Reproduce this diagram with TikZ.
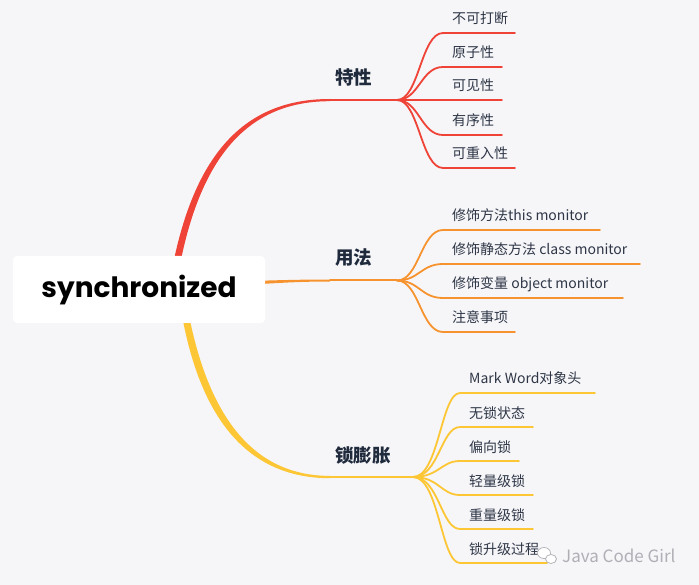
\documentclass[tikz,border=0pt]{standalone}
\usepackage{fontspec}
\setmainfont{Noto Sans CJK SC}
\newfontfamily\popfont{Poppins}
\definecolor{bgc}{HTML}{F6F6F9}
\definecolor{cred}{HTML}{EE4336}
\definecolor{corange}{HTML}{F7932E}
\definecolor{cyellow}{HTML}{FCC634}
\definecolor{cattext}{HTML}{1F2A3C}
\definecolor{childtext}{HTML}{2E3646}
\definecolor{wmark}{HTML}{AFAFB5}
\begin{document}
\begin{tikzpicture}[x=1pt,y=-1pt,
  childlbl/.style={anchor=base west, inner sep=0pt, text=childtext, font=\fontsize{14}{16}\selectfont},
  catlbl/.style={anchor=base west, inner sep=0pt, text=cattext, font=\fontsize{18.5}{22}\selectfont\bfseries},
  sub/.style={line width=1.8pt, line cap=round},
]
\fill[bgc] (0,0) rectangle (699,585);
\useasboundingbox (0,0) rectangle (699,585);

% ---------- main branches ----------
% red
\coordinate (r0) at (177,262);
\coordinate (r1) at (330,100);
\coordinate (rf) at (397,100);
\fill[cred] (173.5,262) .. controls (197,149) and (248,99) .. (330,99)
   -- (330,101.2) .. controls (252,101.2) and (203,151) .. (180.5,262) -- cycle;
\draw[cred, line width=2.2pt] (r1) -- (rf);
% orange
\coordinate (o1) at (330,280.5);
\coordinate (of) at (397,280.5);
\fill[corange] (258,280.8) .. controls (285,280) and (305,279.5) .. (330,279.5)
   -- (330,281.5) .. controls (305,281.5) and (285,282.5) .. (258,284.2) -- cycle;
\draw[corange, line width=2pt] (o1) -- (of);
% yellow
\coordinate (y1) at (330,477);
\coordinate (yf) at (413,477);
\fill[cyellow] (182.5,318) .. controls (202,422) and (250,478.2) .. (330,478.2)
   -- (330,475.9) .. controls (254,475.9) and (210,418) .. (189.5,318) -- cycle;
\draw[cyellow, line width=2.2pt] (y1) -- (yf);

% ---------- root ----------
\node[fill=white, rounded corners=4pt, minimum width=252pt, minimum height=67pt, inner sep=0pt,
      font=\popfont\bfseries\fontsize{28}{32}\selectfont, text=black] (root) at (139,289.5) {synchronized};

% ---------- category labels ----------
\node[catlbl] (c1) at (335,85) {特性};
\node[catlbl] (c2) at (335,265) {用法};
\node[catlbl] (c3) at (335,462) {锁膨胀};

% ---------- red children ----------
\foreach \yy/\xe/\nm/\txt in {33/515/a1/不可打断, 67/502/a2/原子性, 100/502/a3/可见性, 135/502/a4/有序性, 168/515/a5/可重入性}{
  \coordinate (\nm s) at (443,\yy);
  \coordinate (\nm e) at (\xe,\yy);
  \draw[cred, sub] (rf) .. controls (419,100) and (421,\yy) .. (\nm s) -- (\nm e);
  \node[childlbl] (\nm) at (452,\yy-9) {\txt};
}
% ---------- orange children ----------
\foreach \yy/\xe/\nm/\txt in {230/600/b1/修饰方法this monitor, 264/640/b2/修饰静态方法 class monitor, 298/623/b3/修饰变量 object monitor, 332/515/b4/注意事项}{
  \coordinate (\nm s) at (443,\yy);
  \coordinate (\nm e) at (\xe,\yy);
  \draw[corange, sub] (of) .. controls (419,280.5) and (421,\yy) .. (\nm s) -- (\nm e);
  \node[childlbl] (\nm) at (452,\yy-9) {\txt};
}
% ---------- yellow children ----------
\foreach \yy/\xe/\nm/\txt in {393/595/d1/Mark Word对象头, 427/533/d2/无锁状态, 461/519/d3/偏向锁, 495/533/d4/轻量级锁, 529/533/d5/重量级锁, 563/547/d6/锁升级过程}{
  \coordinate (\nm s) at (460,\yy);
  \coordinate (\nm e) at (\xe,\yy);
  \draw[cyellow, sub] (yf) .. controls (439,477) and (441,\yy) .. (\nm s) -- (\nm e);
  \node[childlbl] (\nm) at (469,\yy-9) {\txt};
}

% ---------- watermark ----------
\draw[wmark, fill=white, line width=0.7pt] (544,553) ellipse (6.5pt and 5.5pt);
\draw[wmark, fill=white, line width=0.7pt] (551,559) ellipse (5.5pt and 4.5pt);
\node[anchor=west, inner sep=0pt, text=wmark, font=\fontsize{17}{20}\selectfont] (wm) at (562,556) {Java Code Girl};
\end{tikzpicture}
\end{document}
